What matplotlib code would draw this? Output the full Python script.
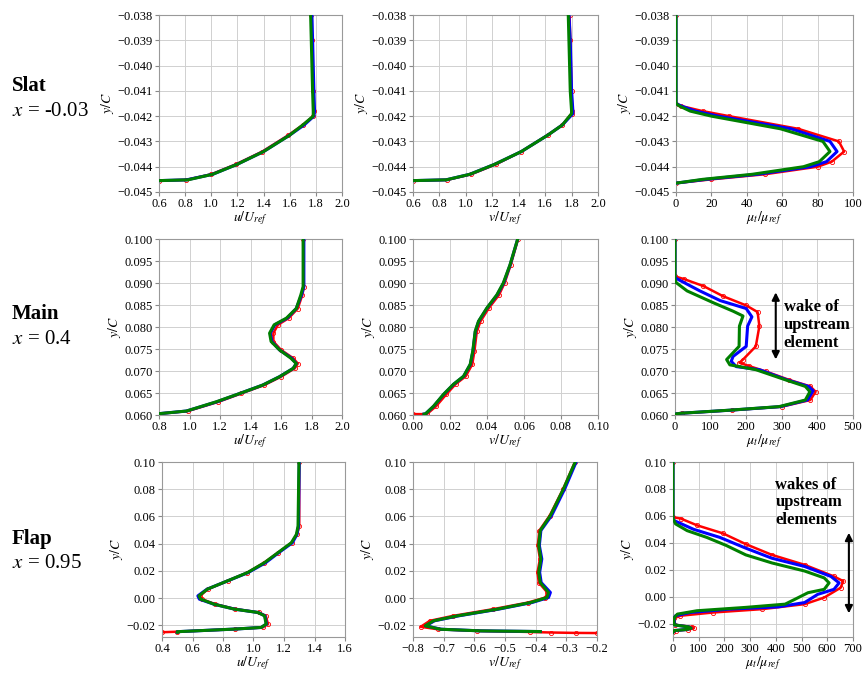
import numpy as np
import matplotlib
matplotlib.use("Agg")
import matplotlib.pyplot as plt

plt.rcParams['font.family'] = 'serif'
plt.rcParams['font.serif'] = ['Liberation Serif', 'DejaVu Serif']
plt.rcParams['mathtext.fontset'] = 'stix'

# ---- Slat, x = -0.03 ----
slat_u_y = [-0.04455, -0.04452, -0.0443, -0.0439, -0.0434, -0.04275, -0.04235, -0.0420, -0.0418, -0.041, -0.039, -0.038]
slat_u_red = [0.60, 0.81, 1.00, 1.19, 1.39, 1.59, 1.70, 1.78, 1.785, 1.78, 1.77, 1.765]
slat_u_blue = [0.60, 0.81, 1.01, 1.20, 1.40, 1.60, 1.71, 1.785, 1.79, 1.785, 1.775, 1.77]
slat_u_green = [0.60, 0.82, 1.01, 1.20, 1.40, 1.60, 1.70, 1.78, 1.78, 1.775, 1.765, 1.76]

slat_v_y = [-0.04455, -0.04452, -0.0443, -0.0439, -0.0434, -0.04275, -0.04235, -0.0419, -0.0418, -0.041, -0.039, -0.038]
slat_v_red = [0.60, 0.86, 1.04, 1.23, 1.42, 1.62, 1.73, 1.80, 1.805, 1.80, 1.79, 1.785]
slat_v_blue = [0.60, 0.85, 1.03, 1.22, 1.42, 1.62, 1.73, 1.81, 1.81, 1.80, 1.79, 1.78]
slat_v_green = [0.60, 0.85, 1.03, 1.22, 1.42, 1.62, 1.73, 1.80, 1.80, 1.79, 1.78, 1.775]

slat_mu_y = [-0.038, -0.0415, -0.0416, -0.0418, -0.042, -0.0425, -0.043, -0.0434, -0.0438, -0.044, -0.0443, -0.0445, -0.04465]
slat_mu_red = [0, 0, 3, 15, 30, 69, 92, 95, 88, 80, 50, 20, 0]
slat_mu_blue = [0, 0, 3, 11, 24, 65, 87, 91, 85, 76, 46, 17, 0]
slat_mu_green = [0, 0, 2, 8, 20, 59, 83, 87, 81, 72, 43, 15, 0]

# ---- Main, x = 0.4 ----
main_u_y = [0.0603, 0.0609, 0.0630, 0.0649, 0.0668, 0.0687, 0.0706, 0.0717, 0.0729, 0.0748, 0.0767, 0.0786, 0.0805, 0.0820, 0.0842, 0.0873, 0.0892, 0.100]
main_u_red = [0.80, 0.99, 1.19, 1.34, 1.49, 1.60, 1.69, 1.71, 1.68, 1.60, 1.55, 1.55, 1.58, 1.65, 1.71, 1.74, 1.75, 1.745]
main_u_blue = [0.80, 0.98, 1.18, 1.33, 1.48, 1.59, 1.68, 1.70, 1.67, 1.59, 1.54, 1.53, 1.56, 1.64, 1.70, 1.735, 1.75, 1.75]
main_u_green = [0.80, 0.98, 1.175, 1.33, 1.48, 1.59, 1.68, 1.70, 1.665, 1.59, 1.535, 1.525, 1.555, 1.635, 1.70, 1.73, 1.745, 1.745]

main_v_y = [0.0602, 0.0602, 0.0620, 0.0647, 0.0670, 0.0688, 0.0715, 0.0745, 0.0790, 0.0813, 0.0843, 0.0873, 0.0900, 0.0941, 0.100]
main_v_red = [0.0, 0.0075, 0.0125, 0.0180, 0.0230, 0.0285, 0.0320, 0.0332, 0.0345, 0.0365, 0.0410, 0.0465, 0.0495, 0.0528, 0.0568]
main_v_blue = [0.0060, 0.0066, 0.0112, 0.0166, 0.0220, 0.0274, 0.0310, 0.0324, 0.0337, 0.0355, 0.0400, 0.0455, 0.0490, 0.0525, 0.0566]
main_v_green = [0.0060, 0.0066, 0.0111, 0.0165, 0.0219, 0.0273, 0.0309, 0.0323, 0.0336, 0.0354, 0.0399, 0.0453, 0.0488, 0.0524, 0.0566]

main_mu_y_red = [0.100, 0.0915, 0.0909, 0.0893, 0.0870, 0.0849, 0.0834, 0.0802, 0.0756, 0.0726, 0.0719, 0.0711, 0.0699, 0.0680, 0.0665, 0.0653, 0.0634, 0.0619, 0.0611, 0.0604, 0.0602]
main_mu_red = [0, 0, 25, 80, 135, 200, 232, 237, 227, 191, 181, 209, 255, 320, 380, 395, 380, 300, 160, 20, 0]
main_mu_y_blue = [0.100, 0.0912, 0.0905, 0.0882, 0.0860, 0.0842, 0.0823, 0.0802, 0.0756, 0.0733, 0.0722, 0.0710, 0.0703, 0.0680, 0.0665, 0.0655, 0.0634, 0.0619, 0.0611, 0.0604, 0.0602]
main_mu_blue = [0, 0, 16, 70, 127, 200, 216, 204, 200, 163, 158, 172, 237, 314, 375, 388, 372, 296, 157, 18, 0]
main_mu_y_green = [0.100, 0.0909, 0.0901, 0.0882, 0.0855, 0.0836, 0.0825, 0.0802, 0.0756, 0.0726, 0.0714, 0.0703, 0.0680, 0.0665, 0.0653, 0.0634, 0.0619, 0.0611, 0.0604, 0.0602]
main_mu_green = [0, 0, 3, 34, 108, 163, 191, 181, 180, 145, 154, 227, 310, 366, 379, 366, 292, 154, 16, 0]

# ---- Flap, x = 0.95 ----
flap_u_y = [-0.0250, -0.0246, -0.0227, -0.0215, -0.0190, -0.0129, -0.0105, -0.0080, -0.0044, -0.0007, 0.0017, 0.0066, 0.0127, 0.0188, 0.0261, 0.0334, 0.0407, 0.0468, 0.0529, 0.100]
flap_u_red = [0.40, 0.50, 0.88, 1.06, 1.095, 1.08, 1.035, 0.88, 0.75, 0.66, 0.65, 0.70, 0.83, 0.96, 1.07, 1.16, 1.25, 1.285, 1.30, 1.30]
flap_u_blue = [0.50, 0.50, 0.875, 1.05, 1.085, 1.075, 1.03, 0.875, 0.74, 0.645, 0.635, 0.695, 0.83, 0.965, 1.08, 1.165, 1.255, 1.285, 1.295, 1.30]
flap_u_green = [0.50, 0.50, 0.873, 1.05, 1.083, 1.072, 1.028, 0.873, 0.741, 0.653, 0.642, 0.697, 0.829, 0.961, 1.072, 1.160, 1.248, 1.281, 1.292, 1.298]

flap_v_y = [0.100, 0.0804, 0.0607, 0.0497, 0.0387, 0.0288, 0.019, 0.0115, 0.0042, 0.0005, -0.0032, -0.0081, -0.0130, -0.0166, -0.0203, -0.0228, -0.0240, -0.0245]
flap_v_blue = [-0.268, -0.305, -0.348, -0.383, -0.388, -0.380, -0.387, -0.382, -0.352, -0.358, -0.412, -0.522, -0.652, -0.730, -0.758, -0.708, -0.578, -0.385]
flap_v_green = [-0.271, -0.309, -0.352, -0.385, -0.390, -0.383, -0.390, -0.385, -0.358, -0.363, -0.417, -0.526, -0.656, -0.733, -0.760, -0.711, -0.580, -0.385]
flap_v_y_red = [0.100, 0.0804, 0.0607, 0.0497, 0.0387, 0.0288, 0.019, 0.0115, 0.0042, 0.0005, -0.0032, -0.0081, -0.0130, -0.0166, -0.0210, -0.0228, -0.0240, -0.0248, -0.0252, -0.0255, -0.0256]
flap_v_red = [-0.272, -0.310, -0.354, -0.388, -0.393, -0.386, -0.394, -0.390, -0.362, -0.368, -0.425, -0.540, -0.670, -0.745, -0.775, -0.720, -0.590, -0.420, -0.35, -0.27, -0.20]

flap_mu_y_red = [0.100, 0.0590, 0.0580, 0.0530, 0.0470, 0.0390, 0.0310, 0.0236, 0.0150, 0.0115, 0.0066, -0.0007, -0.0056, -0.0093, -0.0118, -0.0142, -0.0160, -0.0210, -0.0225, -0.0235, -0.0245, -0.0252, -0.0265]
flap_mu_red = [0, 0, 30, 93, 194, 283, 385, 512, 626, 662, 652, 588, 512, 347, 156, 29, 5, 8, 75, 80, 60, 10, 0]
flap_mu_y_blue = [0.100, 0.0570, 0.0560, 0.0500, 0.0440, 0.0360, 0.0285, 0.0224, 0.0150, 0.0102, 0.0054, 0.0017, -0.0044, -0.0076, -0.0093, -0.0118, -0.0142, -0.0160, -0.0210, -0.0225, -0.0235, -0.0245, -0.0252, -0.0265]
flap_mu_blue = [0, 0, 10, 80, 182, 283, 385, 512, 614, 646, 626, 563, 512, 410, 220, 67, 10, 4, 6, 62, 70, 50, 8, 0]
flap_mu_y_green = [0.100, 0.0580, 0.0540, 0.0490, 0.0440, 0.0380, 0.0310, 0.0250, 0.0190, 0.0139, 0.0102, 0.0054, 0.0029, -0.0020, -0.0056, -0.0080, -0.0105, -0.0130, -0.0154, -0.0180, -0.0210, -0.0225, -0.0235, -0.0245, -0.0252, -0.0265]
flap_mu_green = [0, 0, 10, 55, 131, 207, 283, 385, 512, 588, 607, 588, 525, 474, 436, 283, 93, 17, 6, 3, 5, 60, 70, 50, 5, 0]

row_names = ['Slat', 'Main', 'Flap']
row_pos = ['$x$ = -0.03', '$x$ = 0.4', '$x$ = 0.95']
row_name_y = [86, 314, 539]
row_pos_y = [111, 339, 564]
xlabels = ['$u/U_{ref}$', '$v/U_{ref}$', '$\\mu_t/\\mu_{ref}$']

W, H = 864, 675
# pixel boxes (left, top, right, bottom)
boxes = [
    [(159, 15, 342, 192), (413, 15, 598, 192), (676, 15, 853, 192)],
    [(159, 239, 342, 415), (413, 239, 598, 415), (675, 239, 853, 415)],
    [(162, 462, 345, 637), (413, 462, 597, 637), (673, 462, 853, 637)],
]

panels = [
    [(slat_u_y, slat_u_red, slat_u_y, slat_u_blue, slat_u_y, slat_u_green),
     (slat_v_y, slat_v_red, slat_v_y, slat_v_blue, slat_v_y, slat_v_green),
     (slat_mu_y, slat_mu_red, slat_mu_y, slat_mu_blue, slat_mu_y, slat_mu_green)],
    [(main_u_y, main_u_red, main_u_y, main_u_blue, main_u_y, main_u_green),
     (main_v_y, main_v_red, main_v_y, main_v_blue, main_v_y, main_v_green),
     (main_mu_y_red, main_mu_red, main_mu_y_blue, main_mu_blue, main_mu_y_green, main_mu_green)],
    [(flap_u_y, flap_u_red, flap_u_y, flap_u_blue, flap_u_y, flap_u_green),
     (flap_v_y_red, flap_v_red, flap_v_y, flap_v_blue, flap_v_y, flap_v_green),
     (flap_mu_y_red, flap_mu_red, flap_mu_y_blue, flap_mu_blue, flap_mu_y_green, flap_mu_green)],
]

xlims = [[(0.6, 2.0), (0.6, 2.0), (0, 100)],
         [(0.8, 2.0), (0.0, 0.10), (0, 500)],
         [(0.4, 1.6), (-0.8, -0.2), (0, 700)]]
xticks = [[np.arange(0.6, 2.01, 0.2), np.arange(0.6, 2.01, 0.2), np.arange(0, 101, 20)],
          [np.arange(0.8, 2.01, 0.2), np.arange(0, 0.101, 0.02), np.arange(0, 501, 100)],
          [np.arange(0.4, 1.61, 0.2), np.arange(-0.8, -0.19, 0.1), np.arange(0, 701, 100)]]
ylims = [(-0.045, -0.038), (0.060, 0.100), (-0.0285, 0.10)]
yticks = [np.arange(-0.045, -0.0379, 0.001), np.arange(0.060, 0.1001, 0.005), np.arange(-0.02, 0.101, 0.02)]
yfmt = ['%.3f', '%.3f', '%.2f']
xfmt = [['%.1f', '%.1f', '%d'], ['%.1f', '%.2f', '%d'], ['%.1f', '%.1f', '%d']]

fig = plt.figure(figsize=(W / 100, H / 100), dpi=100)

for r in range(3):
    for c in range(3):
        l, t, rr, b = boxes[r][c]
        ax = fig.add_axes([l / W, 1 - b / H, (rr - l) / W, (b - t) / H])
        yr, xr, yb, xb, yg, xg = panels[r][c]
        ax.plot(xr, yr, color='red', lw=1.8, marker='o', ms=3, mfc='none', mew=0.6, zorder=2)
        ax.plot(xb, yb, color='blue', lw=2.2, zorder=3)
        ax.plot(xg, yg, color='green', lw=2.2, zorder=4)
        ax.set_xlim(*xlims[r][c])
        ylo, yhi = ylims[r]
        if r == 2 and c == 2:
            ylo = -0.030
        ax.set_ylim(ylo, yhi)
        ax.set_xticks(xticks[r][c])
        ax.set_yticks(yticks[r])
        ax.set_yticklabels([(yfmt[r] % v).replace('-', '\u2212') for v in yticks[r]])
        ax.set_xticklabels([(xfmt[r][c] % v).replace('-', '\u2212') for v in xticks[r][c]])
        ax.tick_params(labelsize=9, length=3, color='#888888', pad=1.5)
        ax.grid(True, color='#d0d0d0', lw=0.7)
        for s in ax.spines.values():
            s.set_color('#999999')
        ax.set_xlabel(xlabels[c], fontsize=10, labelpad=-1)
        ax.set_ylabel('$y/C$', fontsize=10, labelpad=1)

    fig.text(12 / W, 1 - row_name_y[r] / H, row_names[r], fontsize=15, fontweight='bold',
             ha='left', va='center')
    fig.text(12 / W, 1 - row_pos_y[r] / H, row_pos[r], fontsize=15,
             ha='left', va='center')

# annotations
ax_main_mu = fig.axes[5]
ax_main_mu.annotate('', xy=(283, 0.0720), xytext=(283, 0.0885),
                    arrowprops=dict(arrowstyle='<|-|>', color='black', lw=1.5, mutation_scale=11))
ax_main_mu.text(305, 0.0805, 'wake of\nupstream\nelement', fontsize=12, fontweight='bold',
                ha='left', va='center', linespacing=1.15)

ax_flap_mu = fig.axes[8]
ax_flap_mu.annotate('', xy=(684, -0.0145), xytext=(684, 0.0495),
                    arrowprops=dict(arrowstyle='<|-|>', color='black', lw=1.5, mutation_scale=11))
ax_flap_mu.text(398, 0.0700, 'wakes of\nupstream\nelements', fontsize=12, fontweight='bold',
                ha='left', va='center', linespacing=1.15)

fig.savefig('out.png', dpi=100)
